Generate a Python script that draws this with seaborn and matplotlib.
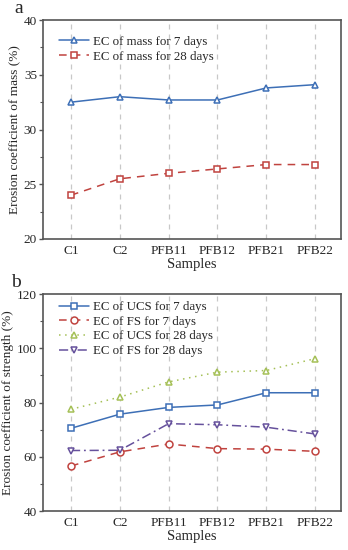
import matplotlib
matplotlib.use("Agg")
import matplotlib.pyplot as plt
import seaborn as sns
import pandas as pd
from matplotlib.ticker import MultipleLocator

samples = ["C1", "C2", "PFB11", "PFB12", "PFB21", "PFB22"]
mass_7 = [32.5, 33.0, 32.7, 32.7, 33.8, 34.1]
mass_28 = [24.0, 25.5, 26.0, 26.4, 26.8, 26.8]
ucs_7 = [70.5, 75.7, 78.2, 79.1, 83.6, 83.6]
fs_7 = [56.6, 61.8, 64.7, 63.0, 62.8, 62.0]
ucs_28 = [77.5, 82.0, 87.6, 91.2, 91.8, 96.2]
fs_28 = [62.3, 62.4, 72.2, 71.8, 70.9, 68.4]

sns.set_theme(style="white")
plt.rcParams['font.family'] = ['Liberation Serif', 'DejaVu Serif']

fig = plt.figure(figsize=(3.48, 5.5), dpi=100)
ax1 = fig.add_axes([0.124, 0.5655, 0.856, 0.398])
ax2 = fig.add_axes([0.124, 0.0709, 0.856, 0.3945])

blue = "#3d6fb6"
red = "#c0433f"
green = "#a5c057"
purple = "#66519c"

def draw(ax, vals, color, marker, ls, label):
    df = pd.DataFrame({"Samples": samples, "val": vals})
    sns.lineplot(data=df, x="Samples", y="val", ax=ax, color=color, marker=marker,
                 linestyle=ls, linewidth=1.1, markersize=5, markerfacecolor="white",
                 markeredgecolor=color, markeredgewidth=1.1, label=label, sort=False)

draw(ax1, mass_7, blue, "^", "-", "EC of mass for 7 days")
draw(ax1, mass_28, red, "s", (0, (5, 4)), "EC of mass for 28 days")

draw(ax2, ucs_7, blue, "s", "-", "EC of UCS for 7 days")
draw(ax2, fs_7, red, "o", (0, (5, 4)), "EC of FS for 7 days")
draw(ax2, ucs_28, green, "^", (0, (1, 3)), "EC of UCS for 28 days")
draw(ax2, fs_28, purple, "v", (0, (6, 2.5, 1.2, 2.5)), "EC of FS for 28 days")

for ax, (lo, hi, step, minor), ylabel, tag, anchor, tagx in [
        (ax1, (20, 40, 5, 2.5), "Erosion coefficient of mass (%)", "a", (0.02, 0.975), -0.095),
        (ax2, (40, 120, 20, 10), "Erosion coefficient of strength (%)", "b", (0.02, 1.015), -0.108)]:
    ax.set_ylim(lo, hi)
    ax.set_xlim(-0.57, 5.53)
    ax.yaxis.set_major_locator(MultipleLocator(step))
    ax.yaxis.set_minor_locator(MultipleLocator(minor))
    ax.grid(axis="x", color="#c8c8c8", linestyle=(0, (4, 4)), linewidth=0.9)
    ax.grid(axis="y", visible=False)
    for s in ax.spines.values():
        s.set_visible(True)
        s.set_color("#555555")
        s.set_linewidth(1.2)
    ax.tick_params(axis="y", which="major", direction="out", length=3, width=1,
                   color="#555555", labelsize=9.5, pad=1.5, left=True)
    ax.tick_params(axis="y", which="minor", direction="out", length=2, width=0.8,
                   color="#555555", left=True)
    ax.tick_params(axis="x", which="major", length=0, labelsize=9.5, pad=4)
    ax.set_xlabel("Samples", fontsize=10.5, labelpad=1)
    ax.set_ylabel(ylabel, fontsize=9.5, labelpad=2)
    ax.legend(loc="upper left", frameon=False, fontsize=9.3, handlelength=2.3,
              handletextpad=0.3, labelspacing=0.2, borderaxespad=0.4,
              bbox_to_anchor=anchor)
    ax.text(tagx, 1.015, tag, transform=ax.transAxes, fontsize=14, ha="left", va="bottom")

fig.savefig("out.png", dpi=100)
